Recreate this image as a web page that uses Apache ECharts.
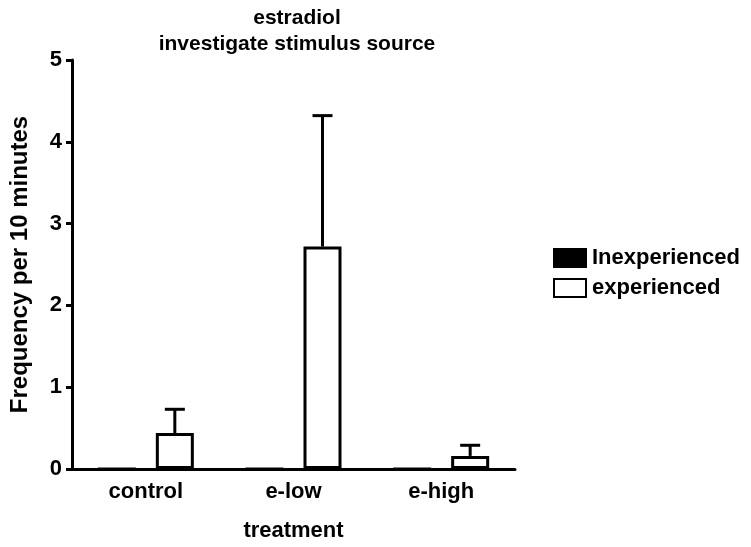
<!DOCTYPE html>
<html>
<head>
<meta charset="utf-8">
<script src="https://cdn.jsdelivr.net/npm/echarts@6/dist/echarts.min.js"></script>
<style>
  html, body { margin: 0; padding: 0; background: #fff; }
  #chart { width: 751px; height: 547px; }
</style>
</head>
<body>
<div id="chart"></div>
<script>
// data
const categories = ['control', 'e-low', 'e-high']
const inexperienced = [0, 0, 0]
const experienced = [0.44, 2.72, 0.16]
const experiencedErr = [0.29, 1.60, 0.13]   // upper error only
const seriesNames = ['Inexperienced', 'experienced']

const FONT = '"Liberation Sans", Arial, sans-serif'
const BAR_W = 38
const BAR_GAP = 20
const LINE = 3

const chart = echarts.init(document.getElementById('chart'))

// error bars drawn on top of the experienced bars
const renderErr = (params, api) => {
    const idx = api.value(0)
    const top = api.coord([idx, api.value(1) + api.value(2)])
    const base = api.coord([idx, api.value(1)])
    const x = base[0] + (BAR_W + BAR_GAP) / 2
    const style = { stroke: '#000', lineWidth: LINE }
    return {
        type: 'group',
        children: [
            { type: 'line', shape: { x1: x, y1: base[1], x2: x, y2: top[1] }, style },
            { type: 'line', shape: { x1: x - 10, y1: top[1], x2: x + 10, y2: top[1] }, style }
        ]
    }
}

const txt = (size) => ({ fontFamily: FONT, fontWeight: 'bold', fontSize: size, color: '#000' })

const option = {
    animation: false,
    backgroundColor: '#fff',
    title: {
        text: 'estradiol\ninvestigate stimulus source',
        left: 292,
        top: 0,
        textAlign: 'center',
        textStyle: Object.assign(txt(21), { lineHeight: 26 })
    },
    legend: {
        orient: 'vertical',
        left: 548,
        top: 242,
        icon: 'rect',
        itemWidth: 32,
        itemHeight: 18,
        itemGap: 8,
        data: seriesNames,
        textStyle: Object.assign(txt(22), { padding: [0, 0, 0, 1] })
    },
    grid: { left: 70, top: 60, right: 236, bottom: 76, containLabel: false },
    xAxis: {
        type: 'category',
        data: categories,
        name: 'treatment',
        nameLocation: 'middle',
        nameGap: 51,
        nameTextStyle: txt(22),
        axisLine: { lineStyle: { color: '#000', width: LINE } },
        axisTick: { alignWithLabel: true, length: 6, lineStyle: { color: '#000', width: LINE } },
        axisLabel: Object.assign(txt(22), { margin: 12 }),
        splitLine: { show: false },
        z: 5
    },
    yAxis: {
        type: 'value',
        min: 0,
        max: 5,
        interval: 1,
        name: 'Frequency per 10 minutes',
        nameLocation: 'middle',
        nameGap: 40,
        nameTextStyle: txt(24),
        axisLine: { show: true, lineStyle: { color: '#000', width: LINE } },
        axisTick: { show: true, length: 6, lineStyle: { color: '#000', width: LINE } },
        axisLabel: Object.assign(txt(22), { margin: 10 }),
        splitLine: { show: false }
    },
    series: [
        {
            name: seriesNames[0],
            type: 'bar',
            data: inexperienced,
            barWidth: BAR_W,
            barGap: (BAR_GAP / BAR_W * 100) + '%',
            itemStyle: { color: '#000', borderColor: '#000', borderWidth: LINE }
        },
        {
            name: seriesNames[1],
            type: 'bar',
            data: experienced,
            barWidth: BAR_W,
            itemStyle: { color: '#fff', borderColor: '#000', borderWidth: LINE }
        },
        {
            type: 'custom',
            renderItem: renderErr,
            data: experienced.map((v, i) => [i, v, experiencedErr[i]]),
            encode: { x: 0, y: 1 },
            z: 3,
            silent: true
        }
    ]
}

chart.setOption(option)
</script>
</body>
</html>
